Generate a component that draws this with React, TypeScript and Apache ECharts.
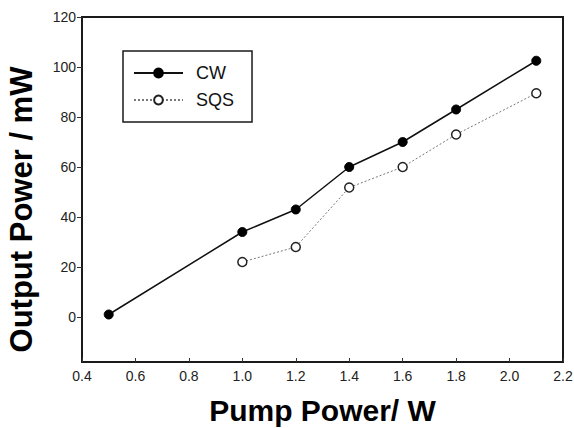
import React, { useEffect, useRef } from "react";
import * as echarts from "echarts";

const pumpCW = [0.5, 1.0, 1.2, 1.4, 1.6, 1.8, 2.1];
const outCW = [1, 34, 43, 60, 70, 83, 102.5];
const pumpSQS = [1.0, 1.2, 1.4, 1.6, 1.8, 2.1];
const outSQS = [22, 28, 51.8, 60, 73, 89.5];
const yTicks = [0, 20, 40, 60, 80, 100, 120];

const FONT = "'Liberation Sans', Arial, sans-serif";

export default function App() {
  const ref = useRef<HTMLDivElement>(null);
  useEffect(() => {
    const chart = echarts.init(ref.current!, null, { renderer: "svg" });
    chart.setOption({
      animation: false,
      backgroundColor: "#ffffff",
      textStyle: { fontFamily: FONT },
      grid: {
        left: 82,
        top: 17,
        right: 11,
        bottom: 66,
        show: true,
        borderColor: "#1a1a1a",
        borderWidth: 2,
        containLabel: false,
        outerBoundsMode: "none",
      },
      legend: {
        orient: "vertical",
        left: 123,
        top: 51,
        padding: [13, 18, 13, 10],
        itemGap: 9,
        itemWidth: 49,
        itemHeight: 11,
        borderColor: "#1a1a1a",
        borderWidth: 1.5,
        textStyle: { fontFamily: FONT, fontSize: 18, color: "#111", padding: [0, 0, 0, 8] },
        data: ["CW", "SQS"],
      },
      xAxis: {
        type: "value",
        min: 0.4,
        max: 2.2,
        interval: 0.2,
        name: "Pump Power/ W",
        nameLocation: "middle",
        nameGap: 33,
        nameTextStyle: { fontFamily: FONT, fontSize: 30, fontWeight: "bold", color: "#000" },
        axisLine: { onZero: false, lineStyle: { color: "#1a1a1a", width: 2 } },
        axisTick: { inside: true, length: 4, lineStyle: { color: "#333", width: 1 } },
        axisLabel: {
          margin: 7,
          fontSize: 14,
          color: "#222",
          formatter: (v: number) => v.toFixed(1),
        },
        splitLine: { show: false },
      },
      yAxis: {
        type: "value",
        min: -18,
        max: 120,
        name: "Output Power / mW",
        nameLocation: "middle",
        nameRotate: 90,
        nameGap: 45,
        nameTextStyle: {
          fontFamily: FONT,
          fontSize: 31,
          fontWeight: "bold",
          color: "#000",
          padding: [0, 40, 0, 0],
        },
        axisLine: { show: true, lineStyle: { color: "#1a1a1a", width: 2 } },
        axisTick: { show: true, length: 5, customValues: yTicks, lineStyle: { color: "#333", width: 1 } },
        axisLabel: { margin: 6, fontSize: 14, color: "#222", customValues: yTicks },
        splitLine: { show: false },
      },
      series: [
        {
          name: "CW",
          type: "line",
          data: pumpCW.map((x, i) => [x, outCW[i]]),
          symbol: "circle",
          symbolSize: 9,
          lineStyle: { color: "#111", width: 1.5 },
          itemStyle: { color: "#000", borderColor: "#000", borderWidth: 1 },
        },
        {
          name: "SQS",
          type: "line",
          data: pumpSQS.map((x, i) => [x, outSQS[i]]),
          symbol: "circle",
          symbolSize: 9,
          lineStyle: { color: "#777", width: 1, type: [2, 2] },
          itemStyle: { color: "#fff", borderColor: "#222", borderWidth: 1.5 },
        },
      ],
    });
    return () => chart.dispose();
  }, []);
  return (
    <div
      ref={ref}
      style={{ position: "fixed", left: 0, top: 0, width: 574, height: 428, background: "#fff" }}
    />
  );
}
